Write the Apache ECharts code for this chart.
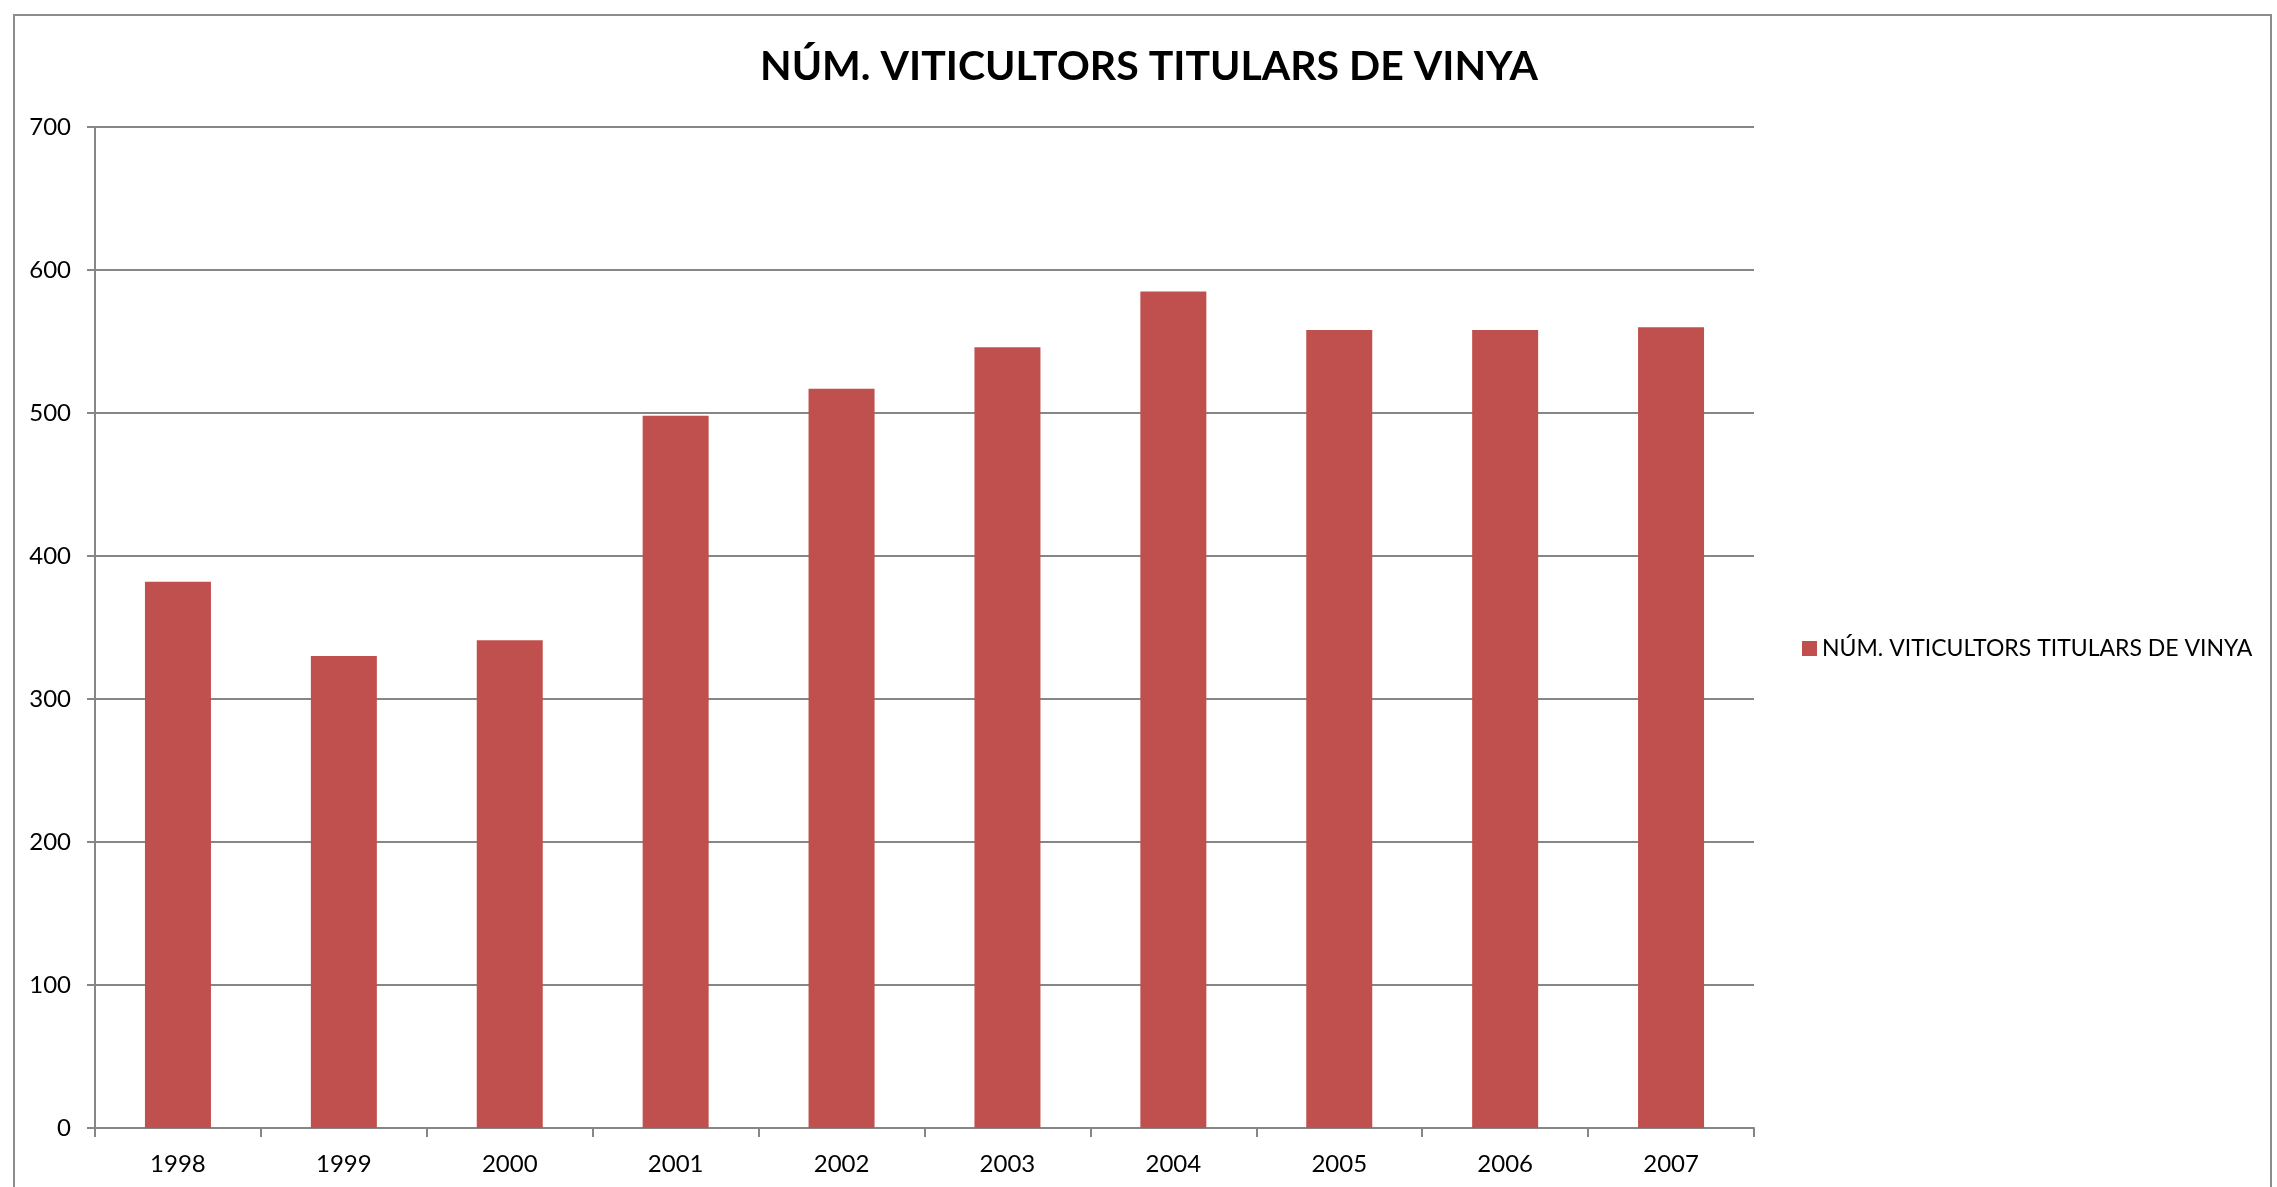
<!DOCTYPE html>
<html>
<head>
<meta charset="utf-8">
<script src="https://cdn.jsdelivr.net/npm/echarts@6/dist/echarts.min.js"></script>
<style>
  html, body { margin: 0; padding: 0; background: #fff; }
  #chart { width: 2277px; height: 1187px; }
</style>
</head>
<body>
<div id="chart"></div>
<script>
// dades
const years = ['1998', '1999', '2000', '2001', '2002', '2003', '2004', '2005', '2006', '2007']
const viticultors = [382, 330, 341, 498, 517, 546, 585, 558, 558, 560]
const seriesName = 'NÚM. VITICULTORS TITULARS DE VINYA'

const FONT = 'Lato, "Open Sans", sans-serif'
const GRAY = '#868686'

const chart = echarts.init(document.getElementById('chart'), null, { renderer: 'canvas' })

chart.setOption({
  backgroundColor: '#fff',
  animation: false,
  title: {
    text: seriesName,
    left: 1144, top: 41, textAlign: 'center',
    textStyle: { fontFamily: FONT, fontSize: 41, fontWeight: 'bold', color: '#000' },
  },
  legend: {
    left: 1797, top: 632,
    itemWidth: 15, itemHeight: 15,
    icon: 'rect',
    textStyle: { fontFamily: FONT, fontSize: 23, color: '#000' },
    data: [seriesName],
  },
  grid: { left: 95, right: 523, top: 127, bottom: 59 },
  xAxis: {
    type: 'category', data: years, boundaryGap: true,
    axisLine: { lineStyle: { color: GRAY, width: 2 } },
    axisTick: { show: true, length: 9, lineStyle: { color: GRAY, width: 2 } },
    axisLabel: { color: '#000', fontFamily: FONT, fontSize: 24, margin: 24 },
  },
  yAxis: {
    type: 'value', min: 0, max: 700, interval: 100,
    axisLine: { show: true, lineStyle: { color: GRAY, width: 2 } },
    axisTick: { show: true, length: 8, lineStyle: { color: GRAY, width: 2 } },
    axisLabel: { color: '#000', fontFamily: FONT, fontSize: 24, margin: 24 },
    splitLine: { lineStyle: { color: GRAY, width: 2 } },
  },
  graphic: [{
    type: 'rect', silent: true,
    shape: { x: 14, y: 15, width: 2257, height: 1200 },
    style: { fill: 'none', stroke: '#8c8c8c', lineWidth: 2 },
  }],
  series: [{
    name: seriesName, type: 'bar', data: viticultors,
    barWidth: 66,
    itemStyle: { color: '#C0504D' },
  }],
})
</script>
</body>
</html>
